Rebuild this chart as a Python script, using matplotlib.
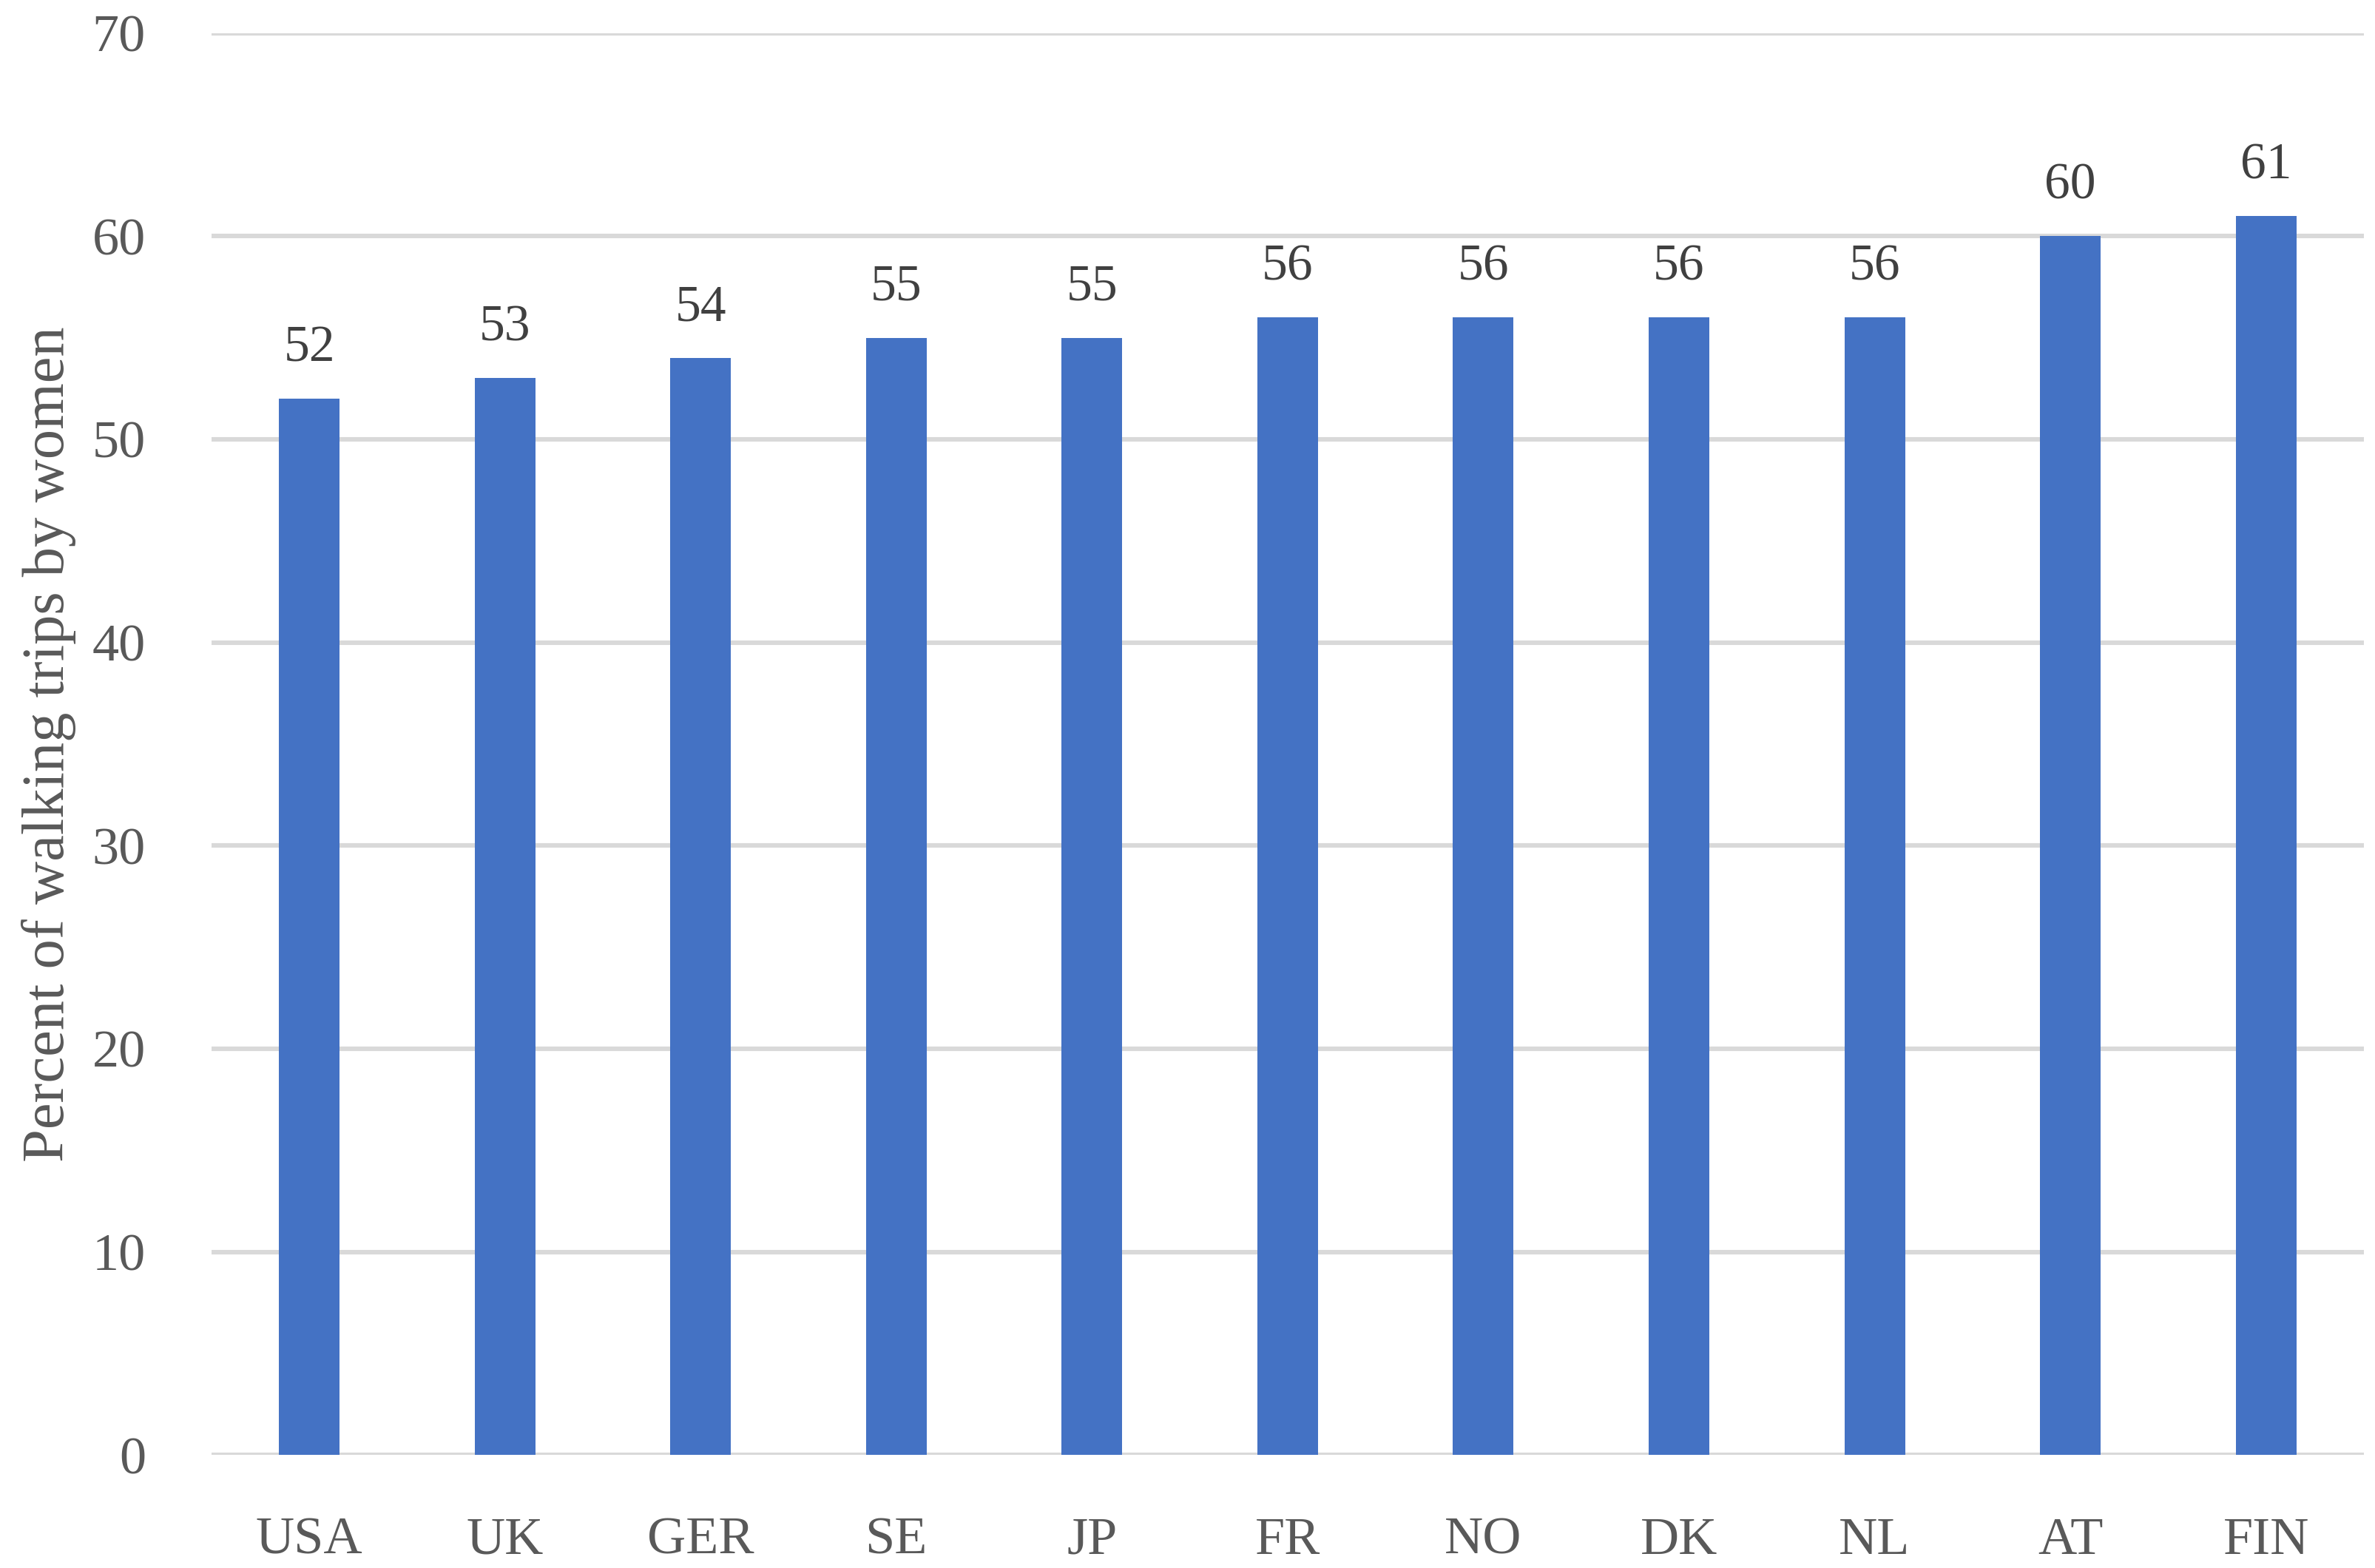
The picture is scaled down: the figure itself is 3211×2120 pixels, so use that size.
import matplotlib
matplotlib.use("Agg")
import matplotlib.pyplot as plt

countries = ["USA", "UK", "GER", "SE", "JP", "FR", "NO", "DK", "NL", "AT", "FIN"]
values = [52, 53, 54, 55, 55, 56, 56, 56, 56, 60, 61]

TEXT = "#595959"
BAR = "#4472C4"
GRID = "#D9D9D9"
plt.rcParams["font.family"] = ["Liberation Serif", "DejaVu Serif"]

fig = plt.figure(figsize=(16.06, 10.6), dpi=200)
ax = fig.add_axes([0.089, 0.072, 0.906, 0.907])

x = range(len(countries))
ax.bar(x, values, width=0.31, color=BAR, zorder=3)
for i, v in enumerate(values):
    ax.text(i, v + 1.3, str(v), ha="center", va="bottom", fontsize=25, color="#404040")

ax.set_xlim(-0.5, len(countries) - 0.5)
ax.set_ylim(0, 70)
ax.set_yticks(range(0, 71, 10))
ax.set_xticks(list(x))
ax.set_xticklabels(countries)
ax.yaxis.grid(True, color=GRID, lw=2.2, zorder=0)
ax.set_axisbelow(True)
for s in ax.spines.values():
    s.set_visible(False)
ax.tick_params(length=0, labelsize=26, colors=TEXT)
ax.tick_params(axis="x", pad=30)
ax.tick_params(axis="y", pad=32)
ax.set_ylabel("Percent of walking trips by women", fontsize=29, color=TEXT, labelpad=8)

fig.savefig("out.png", dpi=200)
